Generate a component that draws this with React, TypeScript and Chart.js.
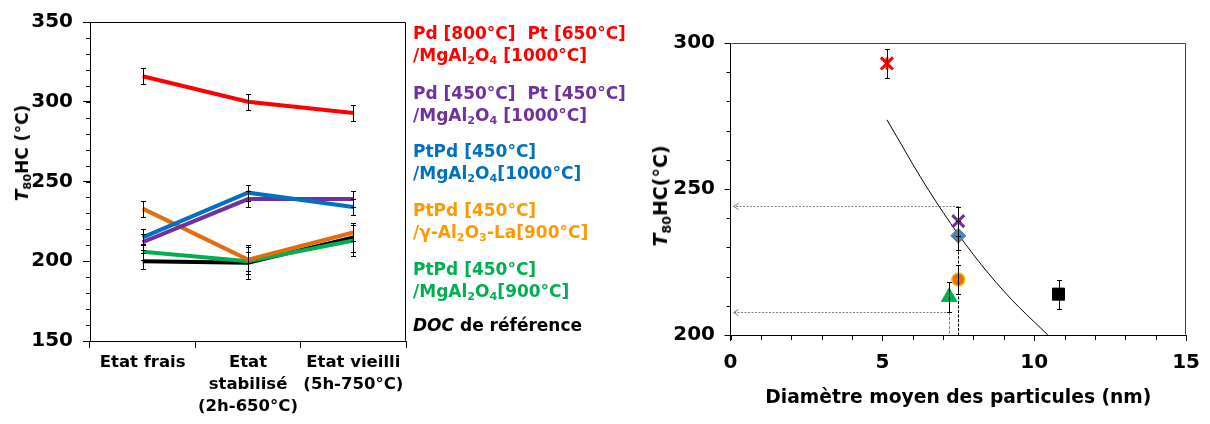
import React, { useEffect, useRef } from 'react';
import { Chart, registerables } from 'chart.js';

Chart.register(...registerables);

const FONT = "'DejaVu Sans', Verdana, sans-serif";

// ---------- Left chart data ----------
const stateLabels = [['Etat frais'], ['Etat', 'stabilisé', '(2h-650°C)'], ['Etat vieilli', '(5h-750°C)']];
const t80Red = [316, 300, 293];
const errRed = [5, 5, 5];
const t80Purple = [212, 239, 239];
const errPurple = [5, 5, 5];
const t80Blue = [215, 243, 234];
const errBlue = [5, 5, 5];
const t80Orange = [233, 201, 218];
const errOrange = [5, 9, 5];
const t80Green = [206, 200, 213];
const errGreen = [5, 6, 10];
const t80Black = [200, 199, 215];
const errBlack = [5, 10, 9];
const leftYMin = 150;
const leftYMax = 350;
const leftYMajor = 50;
const leftYMinor = 10;

// ---------- Right chart data ----------
const diameterNm = [5.15, 7.5, 7.5, 7.5, 7.2, 10.8];
const t80ByCatalyst = [293, 239, 234, 219, 213, 214];
const t80ErrByCatalyst = [5, 5, 5, 5, 5, 5];
const fitDiameter = [5.15, 5.5, 6, 6.5, 7, 7.5, 8, 8.5, 9, 9.5, 10, 10.45];
const fitT80 = [273.7, 267.5, 258.5, 250, 242, 234.5, 227.5, 221, 215, 209.5, 204.5, 200];
const guideDiameter = [7.5, 7.2];
const guideT80 = [244.3, 207.8];
const rightXMin = 0;
const rightXMax = 15;
const rightXMajor = 5;
const rightXMinor = 1;
const rightYMin = 200;
const rightYMax = 300;
const rightYMajor = 50;
const rightYMinor = 10;

const errorBarPlugin = {
  id: 'errorBars',
  afterDatasetsDraw(chart: any) {
    const { ctx } = chart;
    const yScale = chart.scales.y;
    ctx.save();
    ctx.strokeStyle = '#000';
    ctx.lineWidth = 1;
    chart.data.datasets.forEach((ds: any, di: number) => {
      const errs = ds.errorBars;
      if (!errs) return;
      const meta = chart.getDatasetMeta(di);
      meta.data.forEach((el: any, i: number) => {
        const raw = ds.data[i];
        const v = typeof raw === 'number' ? raw : raw.y;
        const e = errs[i];
        const x = Math.round(el.x) + 0.5;
        const yTop = Math.round(yScale.getPixelForValue(v + e)) + 0.5;
        const yBot = Math.round(yScale.getPixelForValue(v - e)) + 0.5;
        ctx.beginPath();
        ctx.moveTo(x, yTop);
        ctx.lineTo(x, yBot);
        ctx.moveTo(x - 2.5, yTop);
        ctx.lineTo(x + 2.5, yTop);
        ctx.moveTo(x - 2.5, yBot);
        ctx.lineTo(x + 2.5, yBot);
        ctx.stroke();
      });
    });
    ctx.restore();
  },
};

const frameAndMinorPlugin = {
  id: 'frameMinor',
  afterDraw(chart: any, _args: any, opts: any) {
    const { ctx, chartArea } = chart;
    ctx.save();
    ctx.lineWidth = 1;
    ctx.strokeStyle = opts.frameColor || '#000';
    const l = Math.round(chartArea.left) + 0.5;
    const r = Math.round(chartArea.right) - 0.5;
    const t = Math.round(chartArea.top) + 0.5;
    const b = Math.round(chartArea.bottom) - 0.5;
    ctx.beginPath();
    ctx.moveTo(l, t);
    ctx.lineTo(r, t);
    ctx.lineTo(r, b);
    ctx.stroke();
    ctx.strokeStyle = '#000';
    const ys = chart.scales.y;
    if (opts.yMinor) {
      const n = Math.round((ys.max - ys.min) / opts.yMinor);
      ctx.beginPath();
      for (let k = 0; k <= n; k++) {
        const v = ys.min + k * opts.yMinor;
        const p = Math.round(ys.getPixelForValue(v)) + 0.5;
        ctx.moveTo(ys.right - opts.yLen, p);
        ctx.lineTo(ys.right, p);
      }
      ctx.stroke();
    }
    const xs = chart.scales.x;
    if (opts.xMinor) {
      const n = Math.round((xs.max - xs.min) / opts.xMinor);
      ctx.beginPath();
      for (let k = 0; k <= n; k++) {
        const v = xs.min + k * opts.xMinor;
        const p = Math.round(xs.getPixelForValue(v)) + 0.5;
        ctx.moveTo(p, xs.top);
        ctx.lineTo(p, xs.top + opts.xLen);
      }
      ctx.stroke();
    }
    ctx.restore();
  },
};

const guidePlugin = {
  id: 'guides',
  beforeDatasetsDraw(chart: any) {
    const { ctx } = chart;
    const x = chart.scales.x;
    const y = chart.scales.y;
    ctx.save();
    ctx.lineWidth = 1;
    guideDiameter.forEach((d, i) => {
      const px = Math.round(x.getPixelForValue(d)) + 0.5;
      const py = Math.round(y.getPixelForValue(guideT80[i])) + 0.5;
      const x0 = Math.round(x.getPixelForValue(x.min)) + 2.5;
      const yb = y.getPixelForValue(y.min);
      ctx.strokeStyle = '#808080';
      ctx.setLineDash([2, 1.5]);
      ctx.beginPath();
      ctx.moveTo(px, py);
      ctx.lineTo(x0, py);
      ctx.stroke();
      ctx.strokeStyle = i === 0 ? '#000' : '#808080';
      ctx.setLineDash([3, 1.5]);
      ctx.beginPath();
      ctx.moveTo(px, py);
      ctx.lineTo(px, yb);
      ctx.stroke();
      ctx.setLineDash([]);
      ctx.strokeStyle = '#808080';
      ctx.beginPath();
      ctx.moveTo(x0 + 5, py - 3);
      ctx.lineTo(x0, py);
      ctx.lineTo(x0 + 5, py + 3);
      ctx.stroke();
    });
    ctx.restore();
  },
};

function lineDs(label: string, data: number[], errs: number[], color: string) {
  return {
    label,
    data,
    errorBars: errs,
    borderColor: color,
    backgroundColor: color,
    borderWidth: 4,
    pointRadius: 0,
    tension: 0,
  };
}

function leftConfig(): any {
  return {
    type: 'line',
    data: {
      labels: stateLabels,
      datasets: [
        lineDs('Pd [800°C] Pt [650°C]/MgAl2O4 [1000°C]', t80Red, errRed, '#FF0000'),
        lineDs('PtPd [450°C]/MgAl2O4[1000°C]', t80Blue, errBlue, '#0070C0'),
        lineDs('Pd [450°C] Pt [450°C]/MgAl2O4 [1000°C]', t80Purple, errPurple, '#7030A0'),
        lineDs('PtPd [450°C]/γ-Al2O3-La[900°C]', t80Orange, errOrange, '#E46C0A'),
        lineDs('PtPd [450°C]/MgAl2O4[900°C]', t80Green, errGreen, '#00B050'),
        lineDs('DOC de référence', t80Black, errBlack, '#000000'),
      ],
    },
    options: {
      animation: false,
      responsive: false,
      devicePixelRatio: 1,
      layout: { padding: { left: 0, top: 17.5, right: 4, bottom: 0 } },
      plugins: {
        legend: { display: false },
        tooltip: { enabled: false },
        frameMinor: { yMinor: leftYMinor, yLen: 4, frameColor: '#000' },
      },
      scales: {
        x: {
          type: 'category',
          offset: true,
          grid: { offset: true, drawOnChartArea: false, tickLength: 7, color: '#000' },
          border: { color: '#000', width: 1 },
          ticks: {
            color: '#000',
            font: { family: FONT, size: 16.5, weight: 'bold', lineHeight: '22px' },
            padding: 4,
            maxRotation: 0,
            autoSkip: false,
          },
          afterFit: (s: any) => {
            s.height = 83;
          },
        },
        y: {
          min: leftYMin,
          max: leftYMax,
          ticks: {
            stepSize: leftYMajor,
            color: '#000',
            font: { family: FONT, size: 20, weight: 'bold' },
            padding: 10,
          },
          grid: { drawOnChartArea: false, tickLength: 7, color: '#000' },
          border: { color: '#000', width: 1 },
          afterFit: (s: any) => {
            s.width = 90;
          },
        },
      },
    },
    plugins: [errorBarPlugin, frameAndMinorPlugin],
  };
}

const markerLabels = [
  'Pd [800°C] Pt [650°C]/MgAl2O4 [1000°C]',
  'Pd [450°C] Pt [450°C]/MgAl2O4 [1000°C]',
  'PtPd [450°C]/MgAl2O4[1000°C]',
  'PtPd [450°C]/γ-Al2O3-La[900°C]',
  'PtPd [450°C]/MgAl2O4[900°C]',
  'DOC de référence',
];

function rightConfig(): any {
  const styles = [
    { pointStyle: 'crossRot', pointRadius: 8.5, borderColor: '#FF0000', backgroundColor: '#FF0000', pointBorderWidth: 3 },
    { pointStyle: 'crossRot', pointRadius: 8.5, borderColor: '#7030A0', backgroundColor: '#7030A0', pointBorderWidth: 3 },
    { pointStyle: 'rectRot', pointRadius: 7.5, borderColor: '#4F81BD', backgroundColor: '#4F81BD', pointBorderWidth: 1 },
    { pointStyle: 'circle', pointRadius: 6.5, borderColor: '#FFC000', backgroundColor: '#E46C0A', pointBorderWidth: 1.5 },
    { pointStyle: 'triangle', pointRadius: 9, borderColor: '#00B050', backgroundColor: '#00B050', pointBorderWidth: 1 },
    { pointStyle: 'rect', pointRadius: 8.5, borderColor: '#000000', backgroundColor: '#000000', pointBorderWidth: 1 },
  ];
  const pointSets = diameterNm.map((d, i) => ({
    label: markerLabels[i],
    data: [{ x: d, y: t80ByCatalyst[i] }],
    errorBars: [t80ErrByCatalyst[i]],
    showLine: false,
    ...styles[i],
  }));
  const starStem = {
    label: markerLabels[0] + ' (stem)',
    data: [{ x: diameterNm[0], y: t80ByCatalyst[0] }],
    showLine: false,
    pointStyle: 'line',
    pointRotation: 90,
    pointRadius: 6,
    pointBorderWidth: 3,
    borderColor: '#FF0000',
    backgroundColor: '#FF0000',
  };
  const fit = {
    label: 'fit',
    data: fitDiameter.map((d, i) => ({ x: d, y: fitT80[i] })),
    showLine: true,
    borderColor: '#000',
    borderWidth: 1,
    pointRadius: 0,
    cubicInterpolationMode: 'monotone',
  };
  return {
    type: 'scatter',
    data: { datasets: [...pointSets, starStem, fit] },
    options: {
      animation: false,
      responsive: false,
      devicePixelRatio: 1,
      layout: { padding: { left: 0, top: 43, right: 20, bottom: 0 } },
      plugins: {
        legend: { display: false },
        tooltip: { enabled: false },
        frameMinor: { yMinor: rightYMinor, yLen: 4, xMinor: rightXMinor, xLen: 5, frameColor: '#404040' },
      },
      scales: {
        x: {
          type: 'linear',
          min: rightXMin,
          max: rightXMax,
          ticks: {
            stepSize: rightXMajor,
            color: '#000',
            font: { family: FONT, size: 20, weight: 'bold' },
            padding: 10,
          },
          grid: { drawOnChartArea: false, tickLength: 6, color: '#000' },
          border: { color: '#000', width: 1 },
          title: {
            display: true,
            text: 'Diamètre moyen des particules (nm)',
            color: '#000',
            font: { family: FONT, size: 18.7, weight: 'bold' },
            padding: { top: 0, bottom: 14.6 },
          },
          afterFit: (s: any) => {
            s.height = 89;
          },
        },
        y: {
          min: rightYMin,
          max: rightYMax,
          ticks: {
            stepSize: rightYMajor,
            color: '#000',
            font: { family: FONT, size: 20, weight: 'bold' },
            padding: 9.5,
          },
          grid: { drawOnChartArea: false, tickLength: 6, color: '#000' },
          border: { color: '#000', width: 1 },
          afterFit: (s: any) => {
            s.width = 110.5;
          },
        },
      },
    },
    plugins: [guidePlugin, errorBarPlugin, frameAndMinorPlugin],
  };
}

const Sub = ({ children }: { children: any }) => (
  <span style={{ fontSize: '0.66em', verticalAlign: '-0.3em', lineHeight: 0 }}>{children}</span>
);

const legendBlock: React.CSSProperties = {
  position: 'absolute',
  left: 413,
  fontFamily: FONT,
  fontWeight: 'bold',
  fontSize: 17,
  lineHeight: '22px',
  whiteSpace: 'pre',
};

export default function App() {
  const leftRef = useRef<HTMLCanvasElement>(null);
  const rightRef = useRef<HTMLCanvasElement>(null);

  useEffect(() => {
    Chart.defaults.font.family = FONT;
    const left = new Chart(leftRef.current as HTMLCanvasElement, leftConfig());
    const right = new Chart(rightRef.current as HTMLCanvasElement, rightConfig());
    return () => {
      left.destroy();
      right.destroy();
    };
  }, []);

  return (
    <div
      style={{
        position: 'fixed',
        left: 0,
        top: 0,
        width: 1210,
        height: 424,
        background: '#fff',
        overflow: 'hidden',
        fontFamily: FONT,
      }}
    >
      <canvas
        ref={leftRef}
        width={410}
        height={424}
        style={{ position: 'absolute', left: 0, top: 0, width: 410, height: 424 }}
      />
      <canvas
        ref={rightRef}
        width={590}
        height={424}
        style={{ position: 'absolute', left: 620, top: 0, width: 590, height: 424 }}
      />

      {/* left y-axis title */}
      <div
        style={{
          position: 'absolute',
          left: 22,
          top: 153,
          transform: 'translate(-50%, -50%) rotate(-90deg)',
          whiteSpace: 'nowrap',
          fontWeight: 'bold',
          fontSize: 17,
          lineHeight: '20px',
          color: '#000',
        }}
      >
        <i>T</i>
        <Sub>80</Sub>HC (°C)
      </div>

      {/* right y-axis title */}
      <div
        style={{
          position: 'absolute',
          left: 660,
          top: 196,
          transform: 'translate(-50%, -50%) rotate(-90deg)',
          whiteSpace: 'nowrap',
          fontWeight: 'bold',
          fontSize: 19,
          lineHeight: '22px',
          color: '#000',
        }}
      >
        <i>T</i>
        <Sub>80</Sub>HC(°C)
      </div>

      {/* legend */}
      <div style={{ ...legendBlock, top: 22, color: '#FF0000' }}>
        <div>Pd [800°C]  Pt [650°C]</div>
        <div>
          /MgAl<Sub>2</Sub>O<Sub>4</Sub> [1000°C]
        </div>
      </div>
      <div style={{ ...legendBlock, top: 82, color: '#7030A0' }}>
        <div>Pd [450°C]  Pt [450°C]</div>
        <div>
          /MgAl<Sub>2</Sub>O<Sub>4</Sub> [1000°C]
        </div>
      </div>
      <div style={{ ...legendBlock, top: 140, color: '#0070C0' }}>
        <div>PtPd [450°C]</div>
        <div>
          /MgAl<Sub>2</Sub>O<Sub>4</Sub>[1000°C]
        </div>
      </div>
      <div style={{ ...legendBlock, top: 199, color: '#FF9900' }}>
        <div>PtPd [450°C]</div>
        <div>
          /γ-Al<Sub>2</Sub>O<Sub>3</Sub>-La[900°C]
        </div>
      </div>
      <div style={{ ...legendBlock, top: 258, color: '#00B050' }}>
        <div>PtPd [450°C]</div>
        <div>
          /MgAl<Sub>2</Sub>O<Sub>4</Sub>[900°C]
        </div>
      </div>
      <div style={{ ...legendBlock, top: 314, color: '#000' }}>
        <div>
          <i>DOC</i> de référence
        </div>
      </div>
    </div>
  );
}
